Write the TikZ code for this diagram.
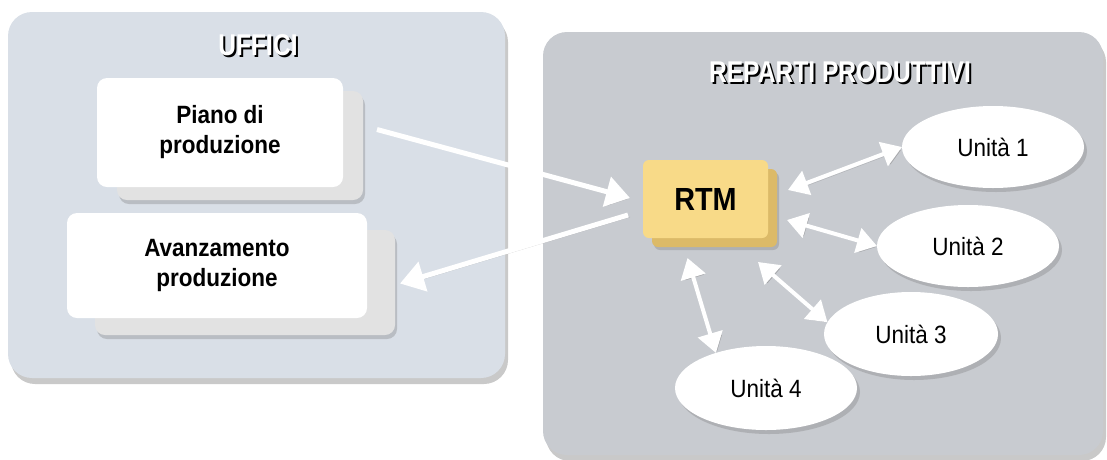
\documentclass[tikz,border=0pt]{standalone}
\usepackage{fontspec}
\setmainfont[FakeStretch=0.9]{Liberation Sans}
\newfontfamily\titlefont[FakeStretch=0.82]{Liberation Sans}
\usetikzlibrary{arrows.meta,shapes.geometric,shadows}
\definecolor{uffbg}{HTML}{D9DFE7}
\definecolor{repbg}{HTML}{C8CBD0}
\definecolor{rtmfront}{HTML}{F8DA88}
\definecolor{rtmside}{HTML}{DCBA68}
\definecolor{boxside}{HTML}{E2E2E2}

\begin{document}
\begin{tikzpicture}[x=1pt, y=-1pt,
	panel/.style={rounded corners=24pt, drop shadow={shadow xshift=3pt, shadow yshift=-6pt, opacity=.3, fill=black!70}},
	paneltitle/.style={text=white, font=\titlefont\bfseries\fontsize{30}{34}\selectfont},
	titleshade/.style={text=black, font=\titlefont\bfseries\fontsize{30}{34}\selectfont},
	office/.style={rectangle, rounded corners=10pt, fill=white, align=center, inner sep=0pt, outer sep=0pt, font=\bfseries\fontsize{25}{30}\selectfont},
	officeback/.style={rectangle, rounded corners=10pt, fill=boxside, inner sep=0pt, drop shadow={shadow xshift=2pt, shadow yshift=-4pt, opacity=.35}},
	unit/.style={ellipse, fill=white, inner sep=0pt, outer sep=0pt, minimum width=182pt, minimum height=82pt, font=\fontsize{25}{30}\selectfont, drop shadow={shadow xshift=3pt, shadow yshift=-4pt, opacity=.35}},
	flow/.style={draw=white, line width=5pt, -{Triangle[width=30pt,length=24pt]}, preaction={draw=black!50, opacity=.35, transform canvas={shift={(2pt,-2pt)}}}},
	link/.style={draw=white, line width=4pt, {Triangle[width=25pt,length=20pt]}-{Triangle[width=25pt,length=20pt]}, preaction={draw=black!50, opacity=.35, transform canvas={shift={(2pt,-2pt)}}}}]

	\useasboundingbox (0,0) rectangle (1107,459);

	% panels
	\fill[uffbg, panel] (8,12) rectangle (505,378);
	\fill[repbg, panel] (543,32) rectangle (1103,455);
	\node[titleshade] (ufficiS) at (260,47) {UFFICI};
	\node[paneltitle] (uffici) at (258,45) {UFFICI};
	\node[titleshade] (repartiS) at (842,74) {REPARTI PRODUTTIVI};
	\node[paneltitle] (reparti) at (840,72) {REPARTI PRODUTTIVI};

	% office boxes
	\node[officeback, minimum width=246pt, minimum height=109pt] (pianoB) at (240,145.5) {};
	\node[office, minimum width=246pt, minimum height=109pt] (piano) at (220,132.5) {Piano di\\produzione};
	\node[officeback, minimum width=300pt, minimum height=105pt] (avanzB) at (245,282.5) {};
	\node[office, minimum width=300pt, minimum height=105pt] (avanz) at (217,265.5) {Avanzamento\\produzione};

	% RTM
	\node[rectangle, rounded corners=6pt, fill=rtmside, minimum width=125pt, minimum height=78pt, drop shadow={shadow xshift=2pt, shadow yshift=-3pt, opacity=.35}] (rtmB) at (714.5,208) {};
	\node[rectangle, rounded corners=6pt, fill=rtmfront, inner sep=0pt, outer sep=0pt, minimum width=125pt, minimum height=78pt, font=\bfseries\fontsize{32}{36}\selectfont] (rtm) at (705.5,199) {RTM};

	% units
	\node[unit] (u1) at (993,147) {Unità 1};
	\node[unit] (u2) at (968,246) {Unità 2};
	\node[unit, minimum width=174pt, minimum height=84pt] (u3) at (911,334) {Unità 3};
	\node[unit, minimum width=182pt, minimum height=84pt] (u4) at (766,388) {Unità 4};

	% connectors
	\draw[flow] ([shift={(34,-3)}]piano.east) -- ([shift={(-13,-1)}]rtm.west);
	\draw[flow] ([shift={(-15,16)}]rtm.west) -- ([shift={(33,18)}]avanz.east);
	\draw[link] ([shift={(20,-9)}]rtm.east) -- (u1.west);
	\draw[link] ([shift={(19,21)}]rtm.east) -- (u2.west);
	\draw[link] ([shift={(-10,24)}]rtm.south east) -- (u3.172);
	\draw[link] ([shift={(-18,20)}]rtm.south) -- (u4.145);
\end{tikzpicture}
\end{document}
